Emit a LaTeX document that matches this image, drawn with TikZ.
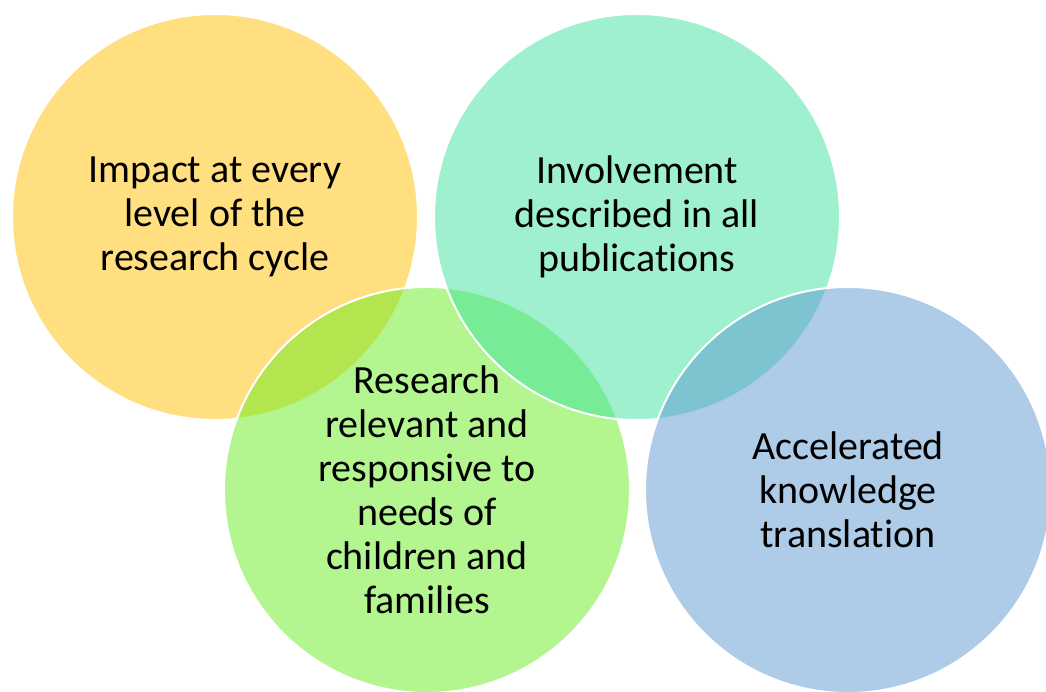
\documentclass[tikz,border=0pt]{standalone}
\usepackage{fontspec}
\setmainfont{Carlito}[Ligatures=NoCommon]
\usepackage{xcolor}
\usepackage{tikz}
\usetikzlibrary{shapes,positioning}
\definecolor{impactcol}{RGB}{255,191,0}
\definecolor{needscol}{RGB}{103,235,31}
\definecolor{involvecol}{RGB}{61,225,159}
\definecolor{transcol}{RGB}{93,151,209}
\tikzstyle{bubble}= [draw=white,
circle,
line width=2pt,
minimum size=406pt,
inner sep=0pt,
outer sep=0pt,
fill opacity=0.5,
text opacity=1,
align=center,
font=\fontsize{40}{44}\selectfont,
]

\begin{document}
\begin{tikzpicture}[x=1pt,y=-1pt]
        \useasboundingbox (0,0) rectangle (1046,691);
        \node[bubble, fill=impactcol] (impact) at (215,217) {Impact at every\\level of the\\research cycle};
        \node[bubble, fill=needscol] (needs) at (427,490) {Research\\relevant and\\responsive to\\needs of\\children and\\families};
        \node[bubble, fill=involvecol, right=16pt of impact] (involve) {Involvement\\described in all\\publications};
        \node[bubble, fill=transcol, right=15pt of needs] (transl) {Accelerated\\knowledge\\translation};
\end{tikzpicture}
\end{document}
